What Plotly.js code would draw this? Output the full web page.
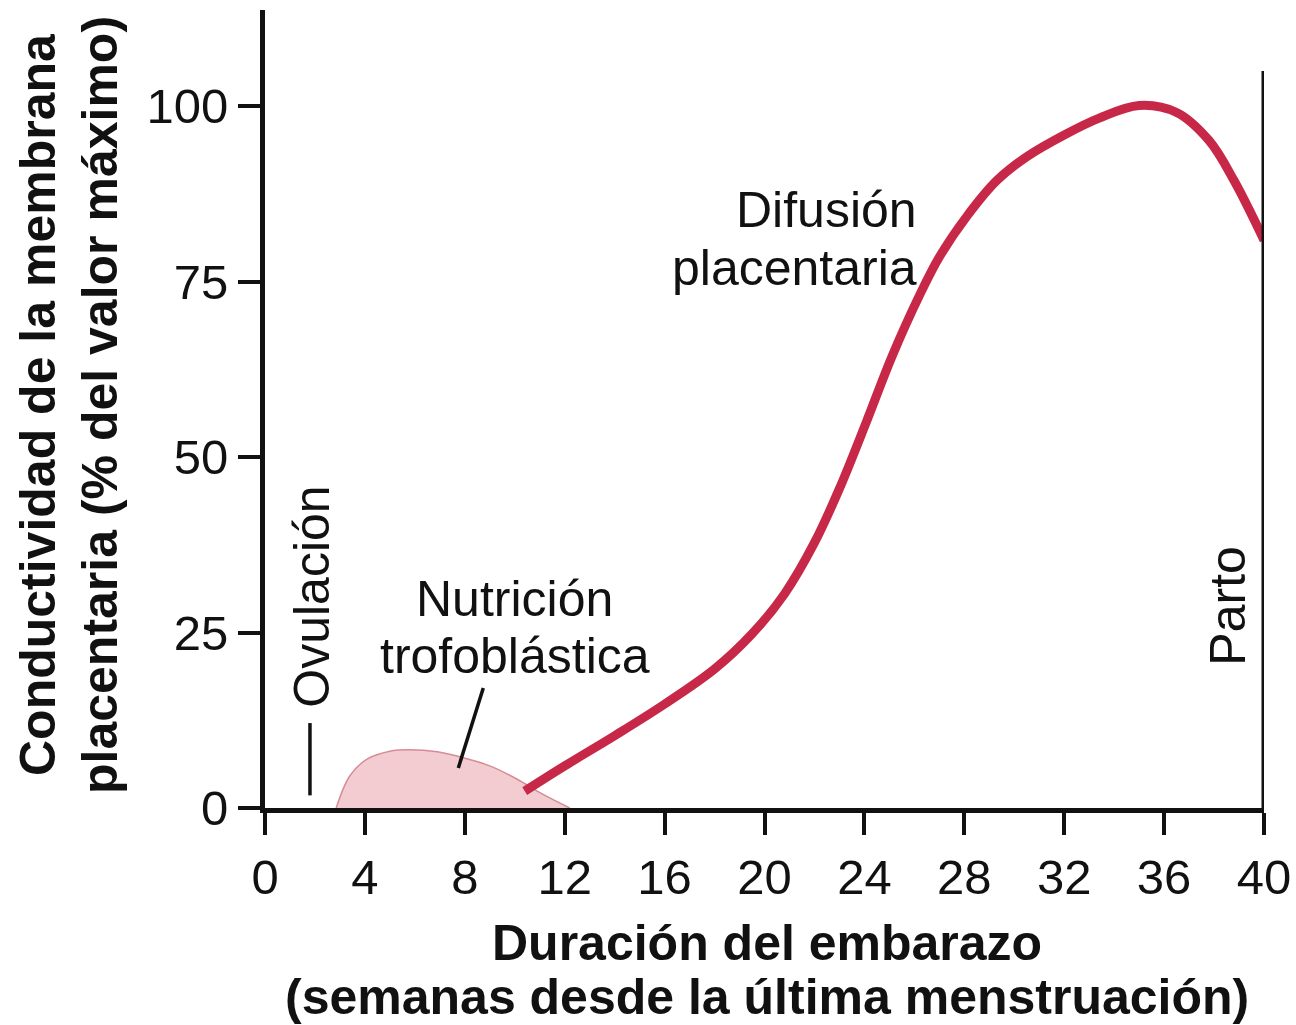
<!DOCTYPE html>
<html>
<head>
<meta charset="utf-8">
<script src="https://cdn.plot.ly/plotly-3.0.1.min.js"></script>
<style>
  html, body { margin: 0; padding: 0; background: #fff; }
  #chart { width: 1296px; height: 1025px; }
</style>
</head>
<body>
<div id="chart"></div>
<script>
// semanas / conductividad (% del valor maximo)
var semanasDifusion = [10.4, 12, 14, 16, 18, 19.5, 20.8, 22, 23, 24.1, 25.1, 26.2, 27, 28.1, 29.3, 30.5, 32, 33.4, 35, 36.5, 37.8, 38.8, 40];
var difusion = [2.4, 6, 10.3, 14.8, 19.8, 24.8, 30.5, 37.8, 45.5, 55.2, 64.3, 73, 78.5, 84.3, 89.4, 92.8, 95.9, 98.3, 100.1, 99.1, 95.1, 89.4, 80.9];

var semanasTrofo = [2.85, 3.4, 4.1, 5.0, 5.8, 6.9, 8.0, 9.0, 10.1, 11.1, 12.2];
var trofo = [0, 4.6, 7.0, 8.1, 8.3, 8.0, 7.1, 6.0, 4.1, 2.0, 0];

var xTicks = [0, 4, 8, 12, 16, 20, 24, 28, 32, 36, 40];
var yTicks = [0, 25, 50, 75, 100];

var semanaOvulacion = 1.8;
var semanaParto = 40;

const fuente = 'Liberation Sans, Arial, sans-serif';

const data = [
  {
    type: 'scatter',
    mode: 'lines',
    x: semanasTrofo,
    y: trofo,
    fill: 'tozeroy',
    fillcolor: 'rgb(242, 204, 208)',
    line: { color: 'rgb(214, 140, 150)', width: 1.5, shape: 'spline' },
    hoverinfo: 'skip'
  },
  {
    type: 'scatter',
    mode: 'lines',
    x: semanasDifusion,
    y: difusion,
    line: { color: 'rgb(200, 40, 72)', width: 9, shape: 'spline', smoothing: 1 },
    cliponaxis: false
  }
];

// texto de los titulos, una linea por anotacion
function linea(texto, opts) {
  return Object.assign({ xref: 'paper', yref: 'paper', text: texto, showarrow: false }, opts);
}

const layout = {
  width: 1296,
  height: 1025,
  margin: { l: 265, r: 32, t: 10, b: 217 },
  paper_bgcolor: '#fff',
  plot_bgcolor: '#fff',
  showlegend: false,
  font: { family: fuente, color: '#111', size: 50 },
  xaxis: {
    range: [0, 40],
    tickvals: xTicks,
    ticktext: xTicks.map(String),
    ticks: 'outside',
    ticklen: 22,
    tickwidth: 4,
    tickcolor: '#111',
    showline: true,
    linewidth: 5,
    linecolor: '#111',
    showgrid: false,
    zeroline: false,
    tickfont: { size: 49 }
  },
  yaxis: {
    range: [0, 113.7],
    tickvals: yTicks,
    ticktext: yTicks.map(String),
    ticks: 'outside',
    ticklen: 22,
    tickwidth: 4,
    tickcolor: '#111',
    showline: true,
    linewidth: 5,
    linecolor: '#111',
    showgrid: false,
    zeroline: false,
    tickfont: { size: 49 }
  },
  shapes: [
    // linea de parto
    { type: 'line', xref: 'x', yref: 'y', x0: semanaParto, x1: semanaParto, y0: 0, y1: 105, line: { color: '#111', width: 5 } },
    // marca de ovulacion
    { type: 'line', xref: 'x', yref: 'y', x0: semanaOvulacion, x1: semanaOvulacion, y0: 1.8, y1: 12.1, line: { color: '#111', width: 3.5 } },
    // puntero de nutricion trofoblastica
    { type: 'line', xref: 'x', yref: 'y', x0: 8.74, x1: 7.74, y0: 17.1, y1: 5.7, line: { color: '#111', width: 3.5 } }
  ],
  annotations: [
    { x: 26.2, y: 85.2, xref: 'x', yref: 'y', text: 'Difusión', showarrow: false, xanchor: 'right' },
    { x: 26.2, y: 76.9, xref: 'x', yref: 'y', text: 'placentaria', showarrow: false, xanchor: 'right' },
    { x: 10.0, y: 29.8, xref: 'x', yref: 'y', text: 'Nutrición', showarrow: false },
    { x: 10.0, y: 21.7, xref: 'x', yref: 'y', text: 'trofoblástica', showarrow: false },
    { x: 1.88, y: 30.1, xref: 'x', yref: 'y', text: 'Ovulación', showarrow: false, textangle: -90 },
    { x: 38.55, y: 28.8, xref: 'x', yref: 'y', text: 'Parto', showarrow: false, textangle: -90 },
    // titulo del eje x
    linea('<b>Duración del embarazo</b>', { x: 0.503, y: 0, yanchor: 'middle', yshift: -135 }),
    linea('<b>(semanas desde la última menstruación)</b>', { x: 0.503, y: 0, yanchor: 'middle', yshift: -189 }),
    // titulo del eje y
    linea('<b>Conductividad de la membrana</b>', { x: 0, y: 0.505, xanchor: 'center', xshift: -227, textangle: -90 }),
    linea('<b>placentaria (% del valor máximo)</b>', { x: 0, y: 0.505, xanchor: 'center', xshift: -165, textangle: -90 })
  ]
};

Plotly.newPlot('chart', data, layout, { displayModeBar: false, staticPlot: true });
</script>
</body>
</html>
